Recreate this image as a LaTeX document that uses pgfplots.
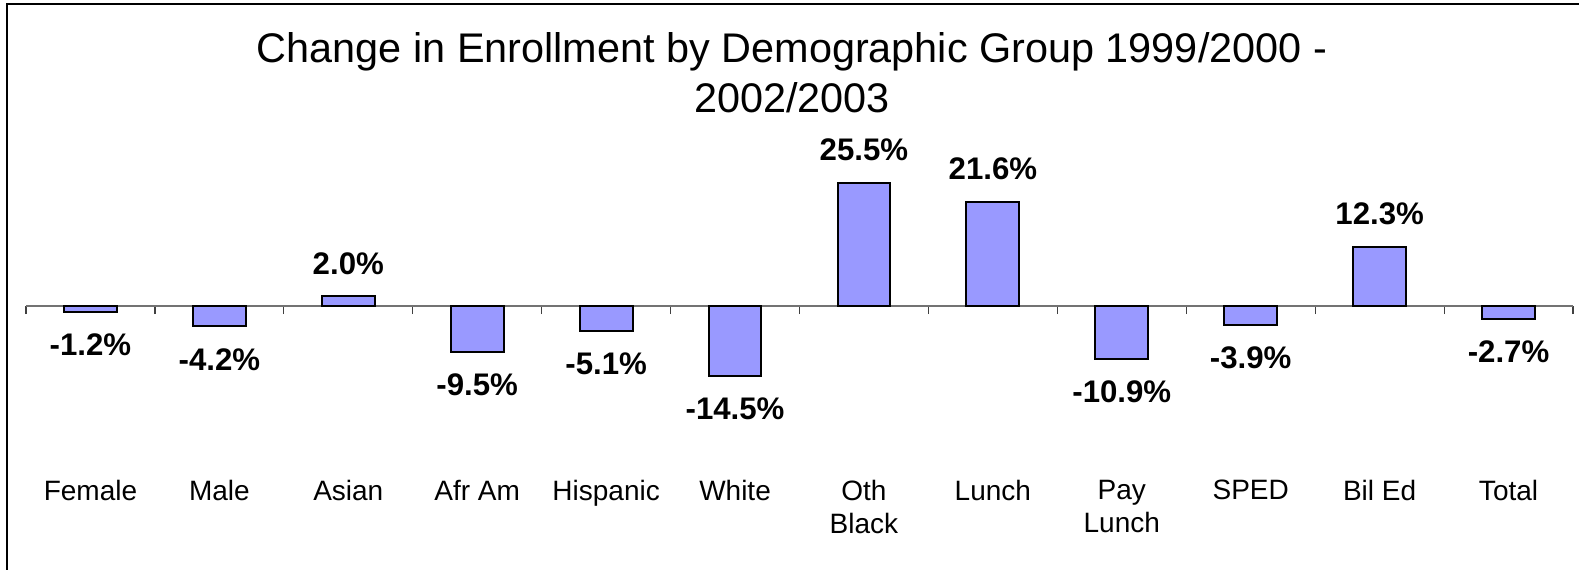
\documentclass[border=0pt]{standalone}
\usepackage{fontspec}
\setmainfont{Liberation Sans}
\usepackage{pgfplots}
\pgfplotsset{compat=1.18}
\definecolor{barfill}{HTML}{9999FF}
\begin{document}
\begin{tikzpicture}
\path[use as bounding box] (0,0) rectangle (789.5pt,284.5pt);
\draw[line width=1pt] (3.5pt,-5pt) -- (3.5pt,282.5pt) -- (800pt,282.5pt);
\node[anchor=base, font=\fontsize{20.7}{24}\selectfont, inner sep=0pt] at (396pt,253pt) {Change in Enrollment by Demographic Group 1999/2000 -};
\node[anchor=base, font=\fontsize{20.7}{24}\selectfont, inner sep=0pt] at (396pt,228.5pt) {2002/2003};
\begin{axis}[
  at={(13pt,59.2pt)}, anchor=south west,
  scale only axis, width=773.5pt, height=144.6pt,
  xmin=-0.5, xmax=11.5, ymin=-30, ymax=30,
  axis x line=middle, axis y line=none,
  axis line style={-, black!55, line width=0.6pt},
  xtick={0,...,11},
  xticklabels={Female,Male,Asian,Afr Am,Hispanic,White,{Oth\\Black},Lunch,{Pay\\Lunch},SPED,Bil Ed,Total},
  minor xtick={-0.5,0.5,...,11.5},
  major tick length=0pt, minor tick length=4pt,
  tick align=outside,
  tick style={black!75, line width=0.6pt},
  xticklabel style={align=center, font=\fontsize{14}{16.8}\selectfont, yshift=-83.5pt},
  ytick=\empty,
  ybar, bar width=0.41,
  /pgf/number format/assume math mode=true,
  point meta=y,
  nodes near coords={\pgfmathprintnumber[fixed,fixed zerofill,precision=1]{\pgfplotspointmeta}\%},
  every node near coord/.append style={font=\bfseries\fontsize{15.6}{18}\selectfont, inner sep=0pt, outer sep=11pt, text=black},
  clip=false,
]
\addplot[fill=barfill, draw=black, line width=1pt] coordinates {
(0,-1.2) (1,-4.2) (2,2.0) (3,-9.5) (4,-5.1) (5,-14.5) (6,25.5) (7,21.6) (8,-10.9) (9,-3.9) (10,12.3) (11,-2.7)};
\end{axis}
\end{tikzpicture}
\end{document}
